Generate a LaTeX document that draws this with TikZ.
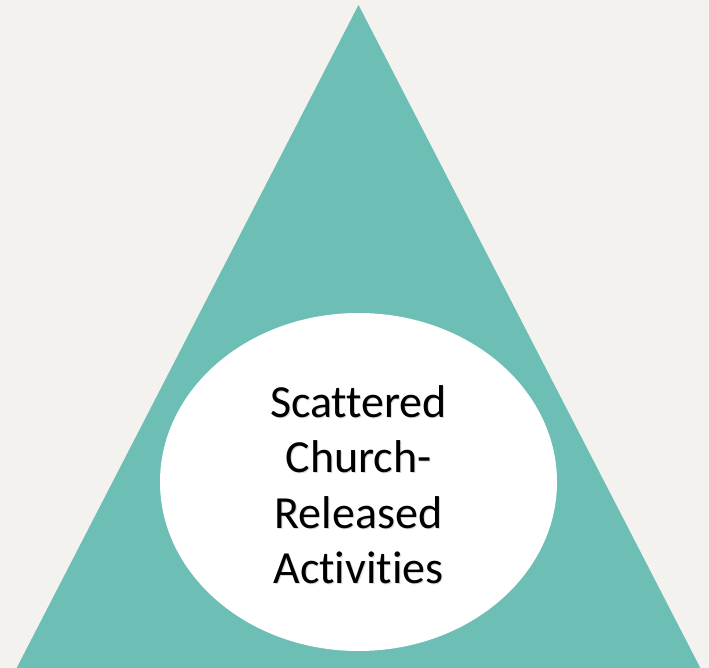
\documentclass[tikz,border=0pt]{standalone}
\usepackage{fontspec}
\setmainfont[Ligatures={NoCommon}]{Carlito}
\usetikzlibrary{shapes.geometric}
\definecolor{paper}{HTML}{F3F2EE}
\definecolor{pyramid}{HTML}{6DBFB6}

\begin{document}
\begin{tikzpicture}[x=1pt,y=-1pt]

  \useasboundingbox (0,0) rectangle (709,668);
  \fill[paper] (0,0) rectangle (709,668);

  % the pyramid runs on past the bottom edge
  \begin{scope}
    \clip (0,0) rectangle (709,668);
    \fill[pyramid] (358.5,5) -- (-5,710) -- (722,710) -- cycle;
  \end{scope}

  \node[ellipse,fill=white,inner sep=0pt,minimum width=397,minimum height=338](hub) at (358.5,482) {};

  \node[gray!30,align=center,font=\fontsize{46}{55.5}\selectfont](shadow) at (359.5,485.5) {Scattered\\Church-\\Released\\Activities};
  \node[black,align=center,font=\fontsize{46}{55.5}\selectfont](label) at (358.5,484.5) {Scattered\\Church-\\Released\\Activities};

\end{tikzpicture}
\end{document}
